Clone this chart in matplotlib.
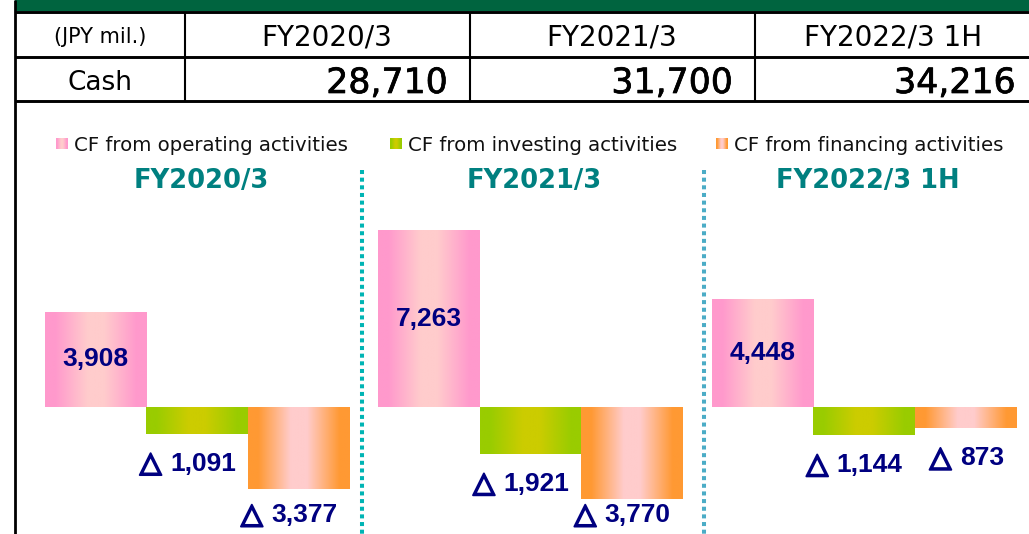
import numpy as np
import matplotlib
matplotlib.use("Agg")
import matplotlib.pyplot as plt
import matplotlib.patheffects as pe
from matplotlib.colors import LinearSegmentedColormap
from matplotlib.transforms import blended_transform_factory

# values (JPY mil.)
periods = ["FY2020/3", "FY2021/3", "FY2022/3 1H"]
cash = [28710, 31700, 34216]
series = ["CF from operating activities", "CF from investing activities",
          "CF from financing activities"]
operating = [3908, 7263, 4448]
investing = [-1091, -1921, -1144]
financing = [-3377, -3770, -873]

W, H = 1029, 534
NAVY = "#000080"
TEAL = "#008080"
LBL_FONT = ["Liberation Sans", "DejaVu Sans"]

# edge colour -> centre colour, horizontal gradient like the slide
grad_cols = [("#FF99CC", "#FFCCCC"), ("#99CC00", "#CCCC00"), ("#FF9933", "#FFCCCC")]
cmaps = []
for edge, mid in grad_cols:
    cmaps.append(LinearSegmentedColormap.from_list(
        "g", [(0, edge), (0.1, edge), (0.42, mid), (0.58, mid), (0.9, edge), (1, edge)]))
ramp = np.linspace(0, 1, 256)[None, :]

fig = plt.figure(figsize=(W / 100, H / 100), dpi=100)

# background / table layer in pixel coordinates
bg = fig.add_axes([0, 0, 1, 1])
bg.set_xlim(0, W)
bg.set_ylim(H, 0)
bg.axis("off")

bg.fill_between([15, W], 0, 11, color="#00643F", lw=0)
for y in [12, 57, 101]:
    bg.plot([15, W], [y, y], color="black", lw=2.1, solid_capstyle="butt")
for x in [185, 470, 755]:
    bg.plot([x, x], [12, 102], color="black", lw=1.5, solid_capstyle="butt")
bg.plot([14.5, 14.5], [0, H], color="black", lw=2.0, solid_capstyle="butt")

bg.text(100, 43, "(JPY mil.)", ha="center", va="baseline", fontsize=15, color="black")
bg.text(100, 90, "Cash", ha="center", va="baseline", fontsize=19, color="black")
col_mid = [327, 612, 893]
col_right = [448, 733, 1016]
for i in range(3):
    bg.text(col_mid[i], 45, periods[i], ha="center", va="baseline", fontsize=20, color="black")
    bg.text(col_right[i], 93, f"{cash[i]:,}", ha="right", va="baseline", fontsize=25, color="black",
            path_effects=[pe.withStroke(linewidth=0.5, foreground="black")])

# legend row
leg_x = [56, 390, 716]
for k in range(3):
    bg.imshow(ramp, cmap=cmaps[k], extent=(leg_x[k], leg_x[k] + 12, 149, 138),
              aspect="auto", interpolation="bilinear")
    bg.text(leg_x[k] + 18, 151, series[k], ha="left", va="baseline", fontsize=14.2, color="#111111")

# dotted dividers
bg.plot([362, 362], [170, H], color="#00B4B4", lw=2.9, linestyle=(0, (1, 0.9)))
bg.plot([704, 704], [170, H], color="#4BACC6", lw=2.9, linestyle=(0, (1, 0.9)))

# bars
px_per_unit = 1 / 41.1
ax = fig.add_axes([45 / W, 0, 971 / W, (H - 170) / H])
ax.patch.set_alpha(0)
ax.axis("off")
pitch = 3.285
vals = [operating, investing, financing]
for i in range(3):
    for j in range(3):
        v = vals[j][i]
        x0 = i * pitch + j
        bar = ax.bar(x0, v, width=1, align="edge", color="none", lw=0)[0]
        im = ax.imshow(ramp, cmap=cmaps[j], extent=(x0, x0 + 1, min(0, v), max(0, v)),
                       aspect="auto", interpolation="bilinear", zorder=2)
        im.set_clip_path(bar)
        if v > 0:
            ax.text(x0 + 0.5, v / 2, f"{v:,}", ha="center", va="center",
                    fontsize=19, fontweight="bold", color=NAVY, family=LBL_FONT, zorder=3)
        else:
            # negative values: number + a heavy outlined triangle to its left
            ly = max(v - 30 / px_per_unit, -4440)
            num = ax.text(x0 + 0.88, ly, f"{-v:,}", ha="right", va="center",
                          fontsize=19, fontweight="bold", color=NAVY, family=LBL_FONT, zorder=3)
            ax.annotate("\u25b3", xy=(0, 0.5), xycoords=num, xytext=(-6, 0),
                        textcoords="offset points", ha="right", va="center",
                        fontsize=20.5, color=NAVY, family="DejaVu Sans", zorder=3,
                        path_effects=[pe.withStroke(linewidth=1.4, foreground=NAVY)])
ax.set_xlim(0, 2 * pitch + 3)
ax.set_ylim(-127 / px_per_unit, 237 / px_per_unit)

# panel titles
tr = blended_transform_factory(ax.transData, bg.transData)
for i in range(3):
    fig.text(i * pitch + 1.5 + 0.04, 188, periods[i], transform=tr, ha="center", va="baseline",
             fontsize=18.5, fontweight="bold", color=TEAL)

fig.savefig("out.png", dpi=100, facecolor="white")
